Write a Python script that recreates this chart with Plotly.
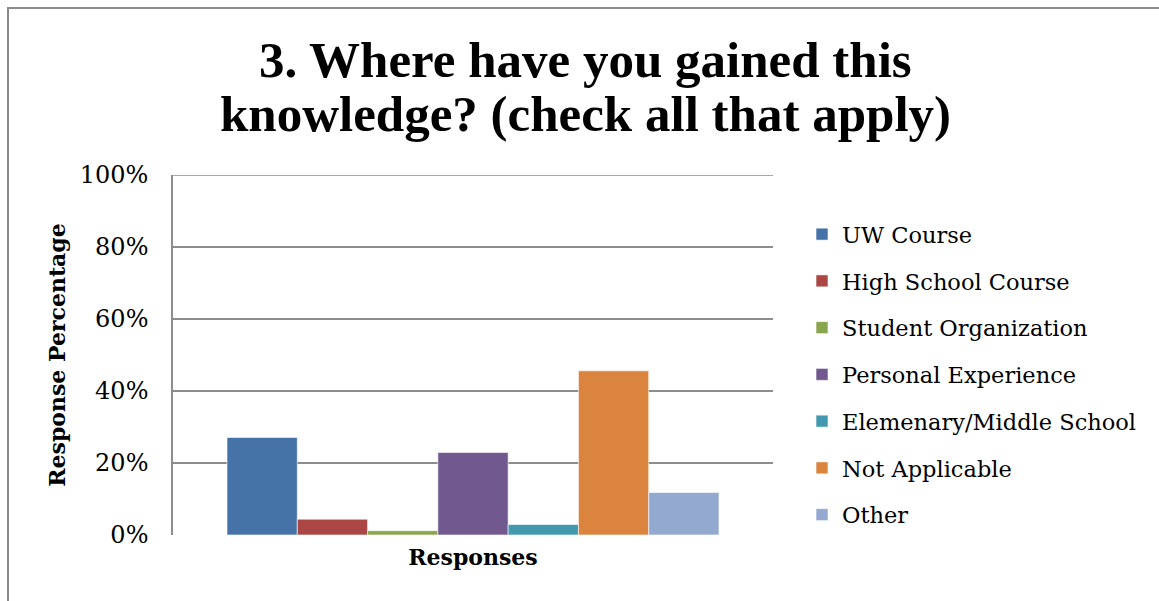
import plotly.graph_objects as go

CATEGORY = ["Responses"]
SERIES = [
    "UW Course", "High School Course", "Student Organization", "Personal Experience",
    "Elemenary/Middle School", "Not Applicable", "Other",
]
VALUES = [0.271, 0.044, 0.012, 0.229, 0.029, 0.456, 0.118]
COLORS = ["#4572a7", "#aa4643", "#89a54e", "#71588f", "#4198af", "#db843d", "#93a9cf"]
Y_TICKS = [0, 0.2, 0.4, 0.6, 0.8, 1.0]
Y_TICK_LABELS = ["0%", "20%", "40%", "60%", "80%", "100%"]
TITLE_LINES = ["3. Where have you gained this", "knowledge? (check all that apply)"]

SERIF = "DejaVu Serif"
W, H = 1159, 601
L, R, T, B = 173, 386, 175, 66
pw, ph = W - L - R, H - T - B


def px(pixel_x):
    """像素x -> paper x"""
    return (pixel_x - L) / pw


def py(pixel_y):
    """像素y(由上往下) -> paper y"""
    return (H - B - pixel_y) / ph


fig = go.Figure()
for i, (name, v, c) in enumerate(zip(SERIES, VALUES, COLORS)):
    fig.add_trace(go.Bar(
        x=CATEGORY, y=[v], name=name, marker=dict(color=c, line=dict(color="white", width=0.6)),
        legendgroup=f"g{i}",
    ))

# 外框(灰色)
fig.add_shape(
    type="rect", xref="paper", yref="paper",
    x0=px(8), x1=px(1165), y0=py(610), y1=py(8),
    line=dict(color="#8c8c8c", width=2), layer="below",
)
# 上緣(100%)線
fig.add_shape(type="line", xref="paper", yref="y", x0=0, x1=1, y0=1, y1=1,
              line=dict(color="#8c8c8c", width=1.5))

# 標題兩行(用annotation控制行距)
for text, cy in zip(TITLE_LINES, [60, 114]):
    fig.add_annotation(
        text=f"<b>{text}</b>", xref="paper", yref="paper",
        x=px(585), xanchor="center", y=py(cy), yanchor="middle",
        showarrow=False, font=dict(family="Liberation Serif", size=51, color="black"),
    )

fig.update_layout(
    width=W, height=H,
    margin=dict(l=L, r=R, t=T, b=B),
    paper_bgcolor="white", plot_bgcolor="white",
    font=dict(family=SERIF, color="black"),
    barmode="group", bargap=0.18, bargroupgap=0,
    legend=dict(
        x=px(802), xanchor="left", y=py(374.5), yanchor="middle",
        font=dict(family=SERIF, size=22.5, color="black"),
        tracegroupgap=14.5, itemwidth=30, bgcolor="rgba(0,0,0,0)",
    ),
    showlegend=True,
)
fig.update_yaxes(
    range=[0, 1], tickvals=Y_TICKS, ticktext=Y_TICK_LABELS,
    showgrid=True, gridcolor="#8c8c8c", gridwidth=1.5,
    showline=True, linecolor="#8c8c8c", linewidth=1.5,
    ticks="", ticklabelstandoff=18,
    tickfont=dict(family=SERIF, size=24, color="black"),
    title=dict(text="<b>Response Percentage</b>", standoff=8,
               font=dict(family=SERIF, size=22, color="black")),
    zeroline=False,
)
fig.update_xaxes(
    showticklabels=False, showline=False, showgrid=False,
    title=dict(text="<b>Responses</b>", standoff=14,
               font=dict(family=SERIF, size=22, color="black")),
)

fig.write_html("out.html", config={"displayModeBar": False},
               post_script="document.body.style.margin='0';")
